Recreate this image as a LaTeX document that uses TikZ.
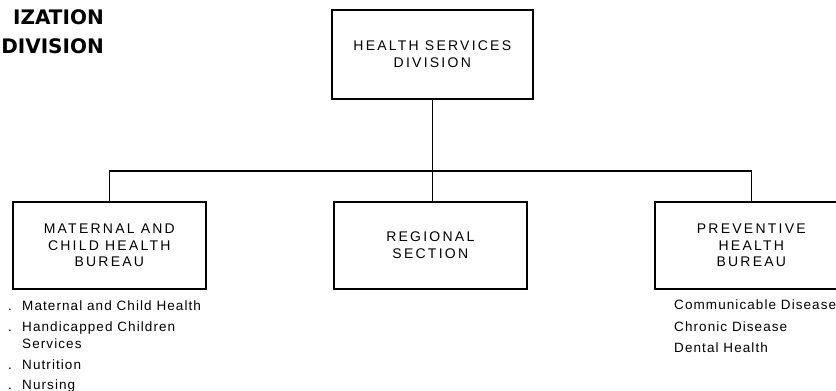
\documentclass[tikz,border=0pt]{standalone}
\usepackage{fontspec}
\setmainfont{Liberation Sans}
\newfontfamily\boxfont[LetterSpace=16]{Liberation Sans}
\newfontfamily\listfont[LetterSpace=8]{Liberation Sans}
\newfontfamily\titlefont{DejaVu Sans}
\begin{document}
\begin{tikzpicture}[x=1pt,y=-1pt,
  unitbox/.style={draw, line width=1.6pt, minimum width=193pt, minimum height=87pt,
    inner sep=0pt, align=center, anchor=north west,
    font=\boxfont\fontsize{14}{16.5}\selectfont},
  topbox/.style={unitbox, minimum width=201pt, minimum height=89pt},
  link/.style={line width=1.5pt},
  item/.style={anchor=base west, inner sep=0pt, font=\listfont\fontsize{13.5}{16}\selectfont},
  bullet/.style={item},
  heading/.style={anchor=base east, inner sep=0pt, font=\titlefont\bfseries\fontsize{20}{24}\selectfont}
]
\useasboundingbox (0,0) rectangle (836,391);
\clip (0,0) rectangle (836,391);

% title fragment
\node[heading] (t1) at (104,24) {IZATION};
\node[heading] (t2) at (104,53) {DIVISION};

% boxes
\node[topbox] (hsd) at (331,9) {HEALTH SERVICES\\DIVISION};
\node[unitbox] (mch) at (12,201) {MATERNAL AND\\CHILD HEALTH\\BUREAU};
\node[unitbox] (reg) at (333,201) {REGIONAL\\SECTION};
\node[unitbox] (phb) at (654,201) {PREVENTIVE\\HEALTH\\BUREAU};

% connectors
\coordinate (bus) at (hsd.south |- 0,171);
\draw[link] (hsd.south) -- (bus);
\draw[link] (mch.north) |- (bus) -| (phb.north);
\draw[link] (bus) -- (bus |- reg.north);

% programs of the maternal and child health bureau
\node[bullet] (d1) at (8,310) {.};
\node[item] (m1) at (22,310) {Maternal and Child Health};
\node[bullet] (d2) at (8,331) {.};
\node[item] (m2) at (22,331) {Handicapped Children};
\node[item] (m2b) at (22,348) {Services};
\node[bullet] (d3) at (8,369) {.};
\node[item] (m3) at (22,369) {Nutrition};
\node[bullet] (d4) at (8,389) {.};
\node[item] (m4) at (22,389) {Nursing};

% programs of the preventive health bureau
\node[item] (p1) at (674,309) {Communicable Disease};
\node[item] (p2) at (674,331) {Chronic Disease};
\node[item] (p3) at (674,352) {Dental Health};
\end{tikzpicture}
\end{document}
